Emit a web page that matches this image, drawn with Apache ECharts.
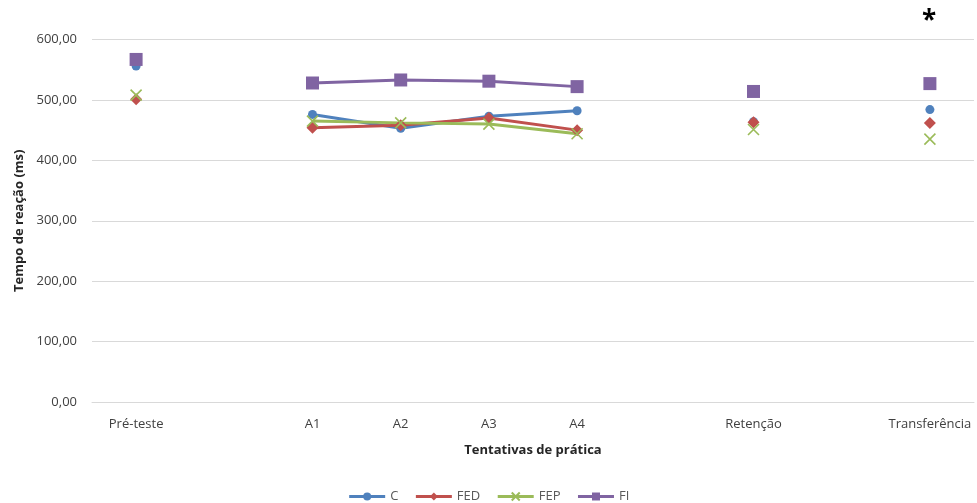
<!DOCTYPE html>
<html><head><meta charset="utf-8">
<script src="https://cdn.jsdelivr.net/npm/echarts@6/dist/echarts.min.js"></script>
<style>html,body{margin:0;padding:0;background:#fff}#c{width:977px;height:503px}</style>
</head><body><div id="c"></div>
<script>
const categories = ['Pré-teste', '', 'A1', 'A2', 'A3', 'A4', '', 'Retenção', '', 'Transferência'];
const yTicks = [0, 100, 200, 300, 400, 500, 600];
const C   = [556, null, 476, 453, 473, 482, null, 464, null, 484];
const FED = [501, null, 454, 458, 470, 450, null, 463, null, 462];
const FEP = [508, null, 465, 462, 460, 444, null, 451, null, 435];
const FI  = [567, null, 528, 533, 531, 522, null, 514, null, 527];

const chart = echarts.init(document.getElementById('c'));
const font = 'Open Sans, Calibri, Liberation Sans, sans-serif';
const xPath = 'path://M0,0L10,10M10,0L0,10';
function s(name, data, color, symbol, size, extra) {
  return Object.assign({
    name, type: 'line', data, connectNulls: false, symbol, symbolSize: size, showSymbol: true,
    color, lineStyle: { color, width: 3 }, itemStyle: { color }, z: 2
  }, extra || {});
}
chart.setOption({
  animation: false,
  textStyle: { fontFamily: font },
  grid: { left: 92, right: 3, top: 39.5, bottom: 101, containLabel: false },
  legend: {
    bottom: -5, left: 'center', itemWidth: 36, itemHeight: 10, itemGap: 16,
    lineStyle: { width: 3 },
    textStyle: { color: '#595959', fontSize: 13, fontFamily: font },
    data: ['C', 'FED', 'FEP', 'FI']
  },
  xAxis: {
    type: 'category', data: categories, boundaryGap: true,
    name: 'Tentativas de prática', nameLocation: 'middle', nameGap: 42,
    nameTextStyle: { fontWeight: 'bold', fontSize: 13, color: '#262626' },
    axisLine: { show: true, lineStyle: { color: '#d9d9d9' } },
    axisTick: { show: false },
    axisLabel: { color: '#404040', fontSize: 13, margin: 16, interval: 0 },
    splitLine: { show: false }
  },
  yAxis: {
    type: 'value', min: yTicks[0], max: yTicks[yTicks.length - 1], interval: 100,
    name: 'Tempo de reação (ms)', nameLocation: 'middle', nameGap: 66,
    nameTextStyle: { fontWeight: 'bold', fontSize: 13, color: '#262626' },
    axisLine: { show: false }, axisTick: { show: false },
    axisLabel: { color: '#404040', fontSize: 13, margin: 15, formatter: v => v.toFixed(2).replace('.', ',') },
    splitLine: { lineStyle: { color: '#d9d9d9' } }
  },
  graphic: [{ type: 'text', left: 922, top: 9, style: { text: '*', font: 'bold 26px ' + font, fill: '#000' } }],
  series: [
    s('C', C, '#4F81BD', 'circle', 9),
    s('FED', FED, '#C0504D', 'diamond', 12),
    s('FEP', FEP, '#9BBB59', xPath, 11, { itemStyle: { color: 'rgba(0,0,0,0)', borderColor: '#9BBB59', borderWidth: 1.6 } }),
    s('FI', FI, '#8064A2', 'rect', 13)
  ]
});
</script></body></html>
